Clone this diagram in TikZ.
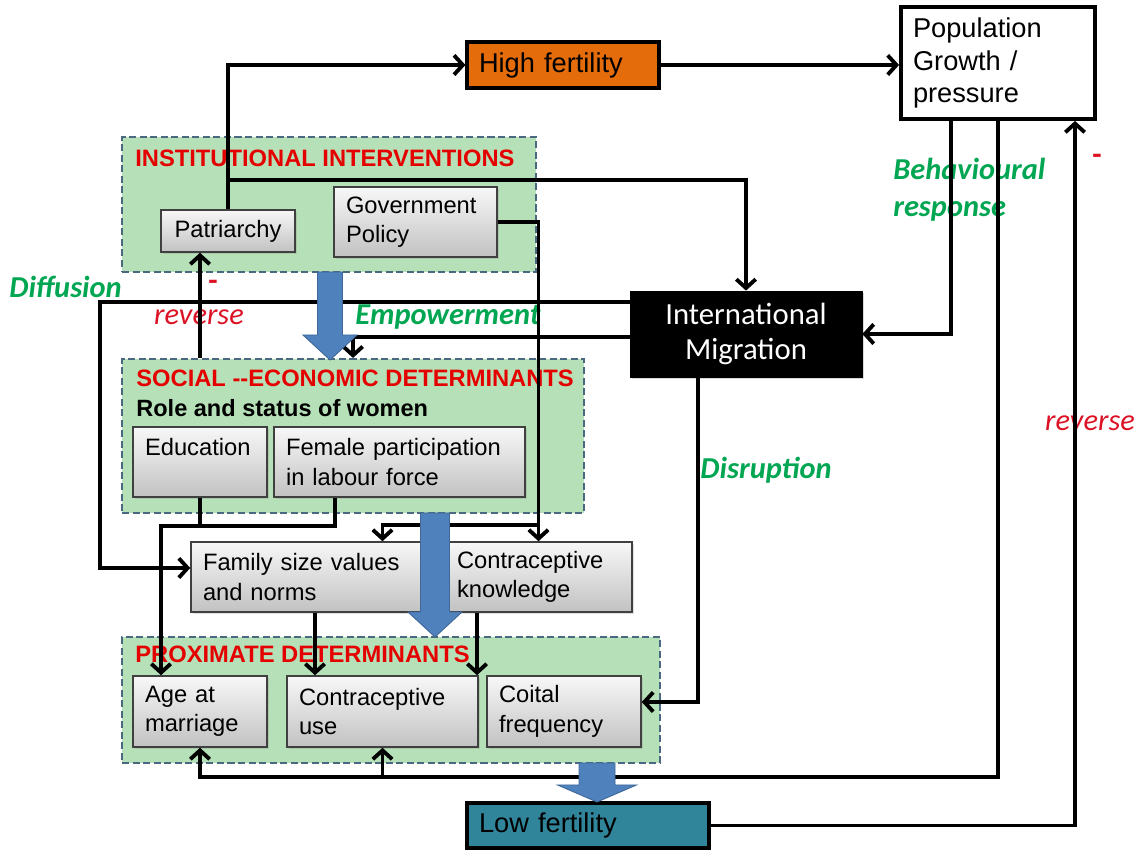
\documentclass[tikz,border=0pt]{standalone}
\usepackage{fontspec}
\setmainfont{Liberation Sans}
\newfontfamily\carlito{Carlito}
\usetikzlibrary{arrows.meta,calc,shadows}

\definecolor{hifertorange}{RGB}{228,108,10}
\definecolor{lowfertteal}{RGB}{49,133,155}
\definecolor{panelgreen}{RGB}{182,225,184}
\definecolor{paneledge}{RGB}{74,104,128}
\definecolor{blockblue}{RGB}{79,129,189}
\definecolor{labelgreen}{RGB}{0,166,81}
\definecolor{labelred}{RGB}{220,18,36}

\begin{document}
\begin{tikzpicture}[x=0.02cm, y=-0.02cm,
    panel/.style={draw=paneledge, dash pattern=on 4pt off 2pt, line width=1.2pt,
        fill=panelgreen},
    greybox/.style={draw=black!75, line width=0.9pt, top color=gray!6, bottom color=gray!48,
        drop shadow={opacity=0.25, shadow xshift=1.2pt, shadow yshift=-1.2pt},
        inner xsep=0.24cm, inner ysep=0pt, align=left,
        font=\fontsize{13.5}{16.8}\selectfont},
    paneltitle/.style={inner sep=0pt, text=red!90!black, font=\fontsize{13.5}{15}\selectfont\bfseries},
    greenlbl/.style={inner sep=0pt, text=labelgreen, font=\carlito\fontsize{17.3}{21}\selectfont\bfseries\itshape},
    redlbl/.style={inner sep=0pt, text=labelred, font=\carlito\fontsize{17.3}{21}\selectfont\itshape},
    arr/.style={line width=2.2pt, -{Straight Barb[length=5pt,width=11pt]}},
    link/.style={line width=2.2pt}]
    \useasboundingbox (0,0) rectangle (1147,854);

    % Panels
    \node[panel, minimum width=8.28cm, minimum height=2.70cm] (inst) at (329,204.5) {};
    \node[panel, minimum width=9.24cm, minimum height=3.08cm] (socio) at (353,436) {};
    \node[panel, minimum width=10.76cm, minimum height=2.52cm] (prox) at (391,700) {};
    \node[paneltitle, anchor=west] (insttitle) at (135,158) {INSTITUTIONAL INTERVENTIONS};
    \node[paneltitle, anchor=west] (sociotitle) at (136,378) {SOCIAL {-}{-}ECONOMIC DETERMINANTS};
    \node[inner sep=0pt, anchor=west, font=\fontsize{13.4}{15}\selectfont\bfseries] (role) at (136,408) {Role and status of women};
    \node[paneltitle, anchor=west] (proxtitle) at (135,654) {PROXIMATE DETERMINANTS};

    % Top row
    \node[draw=black, line width=1.8pt, fill=hifertorange, inner xsep=0.24cm, text width=3.36cm,
        minimum height=0.92cm, align=left, font=\fontsize{15.5}{18}\selectfont] (hifert) at (563,65) {High fertility};
    \node[draw=black, line width=2.2pt, fill=white, inner xsep=0.24cm, text width=3.40cm,
        minimum height=2.24cm, align=left, font=\fontsize{15.5}{18.7}\selectfont] (pop) at (998,63) {Population\\Growth /\\pressure};

    % Grey boxes
    \node[greybox, text width=2.20cm, minimum height=0.84cm, align=center] (patr) at (228,231) {Patriarchy};
    \node[greybox, text width=2.78cm, minimum height=1.40cm] (gov) at (415.5,222) {Government\\Policy};
    \node[greybox, text width=2.20cm, minimum height=1.40cm] (edu) at (200,462) {Education\\\mbox{}};
    \node[greybox, text width=4.54cm, minimum height=1.40cm] (fem) at (399.5,462) {Female participation\\in labour force};
    \node[greybox, text width=4.30cm, minimum height=1.40cm] (fam) at (310.5,577) {Family size values\\and norms};
    \node[greybox, text width=3.26cm, minimum height=1.40cm] (ck) at (538.5,577) {Contraceptive\\knowledge};
    \node[greybox, text width=2.20cm, minimum height=1.42cm] (age) at (200,711.5) {Age at\\marriage};
    \node[greybox, text width=3.34cm, minimum height=1.42cm] (cuse) at (382.5,711.5) {Contraceptive\\use};
    \node[greybox, text width=2.60cm, minimum height=1.42cm] (coit) at (564,711.5) {Coital\\frequency};

    % Migration and low fertility
    \node[draw=black, fill=black, text=white, minimum width=4.64cm, minimum height=1.72cm, align=center,
        drop shadow={opacity=0.3, shadow xshift=1.2pt, shadow yshift=-1.2pt},
        font=\carlito\fontsize{17.5}{20}\selectfont] (mig) at (746,334) {International\\Migration};
    \node[draw=black, line width=2pt, fill=lowfertteal, inner xsep=0.24cm, text width=4.36cm,
        minimum height=0.90cm, align=left, font=\fontsize{15.5}{18}\selectfont] (lowf) at (588,825.5) {Low fertility};

    % Labels
    \node[greenlbl, anchor=west] (diffusion) at (9,287) {Diffusion};
    \node[redlbl, font=\carlito\fontsize{17.3}{21}\selectfont\bfseries] (minusleft) at (213,285) {-};
    \node[redlbl] (revleft) at (199,317) {reverse};
    \node[greenlbl, anchor=west] (empower) at (355,317) {Empowerment};
    \node[greenlbl, anchor=west, align=left] (behav) at (893,190) {Behavioural\\response};
    \node[greenlbl] (disrupt) at (766,470) {Disruption};
    \node[redlbl] (revright) at (1090,423) {reverse};
    \node[redlbl, font=\carlito\fontsize{17.3}{21}\selectfont\bfseries] (minusright) at (1097,159) {-};

    % Connectors
    \draw[arr] (patr.north) |- (hifert.west);
    \coordinate (instrow) at (patr.north |- 0,180);
    \draw[arr] (instrow) -| (mig.north);
    \draw[arr] (hifert.east) -- (hifert.east -| pop.west);
    \draw[arr] ($(pop.south)+(-47,0)$) |- (mig.east);
    \coordinate (bottomrun) at (age.south |- 0,777);
    \draw[arr] (pop.south) |- (bottomrun) -- (age.south);
    \draw[arr] (cuse.south |- bottomrun) -- (cuse.south);
    \draw[arr] (lowf.east) -| ($(pop.south)+(77,0)$);
    \draw[arr] (socio.north -| edu.north) -- (patr.south -| edu.north);
    \draw[arr] ($(mig.west)+(0,-32)$) -| ($(fam.west)+(-90,-9)$) -- ($(fam.west)+(0,-9)$);
    \draw[arr] ($(mig.west)+(0,3)$) -| (socio.north);
    \draw[arr] (gov.east) -| (ck.north);
    \draw[arr] (ck.north |- 0,525) -| ($(fam.north)+(72,0)$);
    \draw[link] (edu.south) -- (edu.south |- 0,527);
    \draw[arr] ($(fem.south)+(-64.5,0)$) |- ($(age.north)+(-39,-149)$) -- ($(age.north)+(-39,0)$);
    \draw[arr] ($(fam.south)+(4.5,0)$) -- ($(fam.south |- cuse.north)+(4.5,0)$);
    \draw[arr] ($(ck.south)+(-61.5,0)$) -- ($(ck.south |- cuse.north)+(-61.5,0)$);
    \draw[arr] ($(mig.south)+(-48,0)$) |- ($(coit.east)+(0,-9.5)$);

    % Block arrows
    \filldraw[fill=blockblue, draw=blockblue!80!black, line width=0.5pt]
        (317.5,272) -- (342.5,272) -- (342.5,335) -- (357,335) -- (330,360) -- (303,335) -- (317.5,335) -- cycle;
    \filldraw[fill=blockblue, draw=blockblue!80!black, line width=0.5pt]
        (420.5,513) -- (449.5,513) -- (449.5,612) -- (462,612) -- (435,637) -- (408,612) -- (420.5,612) -- cycle;
    \filldraw[fill=blockblue, draw=blockblue!80!black, line width=0.5pt]
        (579,763) -- (615,763) -- (615,785) -- (636.5,785) -- (597,802) -- (557.5,785) -- (579,785) -- cycle;
\end{tikzpicture}
\end{document}
